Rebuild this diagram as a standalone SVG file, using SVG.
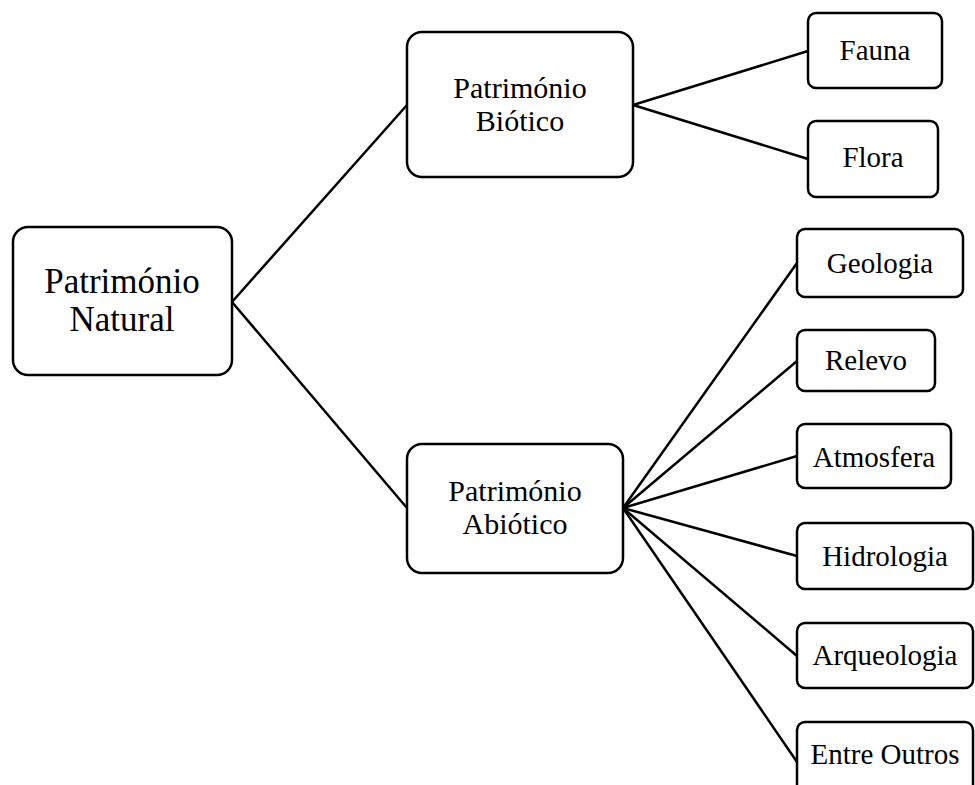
<svg xmlns="http://www.w3.org/2000/svg" width="975" height="785" viewBox="0 0 975 785">
<style>
.box{fill:#fff;stroke:#000;stroke-width:2.5}
.t{font-family:"Liberation Serif","Times New Roman",serif;fill:#000;text-anchor:middle}
.big{font-size:35px}
.mid{font-size:30px}
.sm{font-size:29px}
#connectors line{stroke:#000;stroke-width:2.5}
</style>
<rect width="975" height="785" fill="#fff"/>
<g id="connectors">
<line x1="232" y1="302" x2="407" y2="105"/>
<line x1="232" y1="302" x2="407" y2="508"/>
<line x1="633" y1="105" x2="808" y2="51"/>
<line x1="633" y1="105" x2="808" y2="159"/>
<line x1="623" y1="508" x2="797" y2="263"/>
<line x1="623" y1="508" x2="797" y2="361"/>
<line x1="623" y1="508" x2="797" y2="456"/>
<line x1="623" y1="508" x2="797" y2="556"/>
<line x1="623" y1="508" x2="797" y2="656"/>
<line x1="623" y1="508" x2="797" y2="762"/>
</g>
<g id="natural">
<rect class="box" x="13" y="227" width="219" height="148" rx="15"/>
<text class="t big" x="122" y="293">Património</text>
<text class="t big" x="122" y="331">Natural</text>
</g>
<g id="biotico">
<rect class="box" x="407" y="32" width="226" height="145" rx="15"/>
<text class="t mid" x="520" y="98">Património</text>
<text class="t mid" x="520" y="131">Biótico</text>
</g>
<g id="abiotico">
<rect class="box" x="407" y="444" width="216" height="129" rx="15"/>
<text class="t mid" x="515" y="501">Património</text>
<text class="t mid" x="515" y="534">Abiótico</text>
</g>
<g id="fauna">
<rect class="box" x="808" y="13" width="134" height="75" rx="8"/>
<text class="t sm" x="875" y="60">Fauna</text>
</g>
<g id="flora">
<rect class="box" x="808" y="121" width="130" height="76" rx="8"/>
<text class="t sm" x="873" y="167">Flora</text>
</g>
<g id="geologia">
<rect class="box" x="797" y="229" width="166" height="68" rx="8"/>
<text class="t sm" x="880" y="273">Geologia</text>
</g>
<g id="relevo">
<rect class="box" x="797" y="330" width="138" height="61" rx="8"/>
<text class="t sm" x="866" y="370">Relevo</text>
</g>
<g id="atmosfera">
<rect class="box" x="797" y="424" width="154" height="64" rx="8"/>
<text class="t sm" x="874" y="467">Atmosfera</text>
</g>
<g id="hidrologia">
<rect class="box" x="797" y="523" width="176" height="66" rx="8"/>
<text class="t sm" x="885" y="566">Hidrologia</text>
</g>
<g id="arqueologia">
<rect class="box" x="797" y="623" width="176" height="65" rx="8"/>
<text class="t sm" x="885" y="665">Arqueologia</text>
</g>
<g id="entre-outros">
<rect class="box" x="797" y="722" width="176" height="80" rx="8"/>
<text class="t sm" x="885" y="764">Entre Outros</text>
</g>
</svg>
